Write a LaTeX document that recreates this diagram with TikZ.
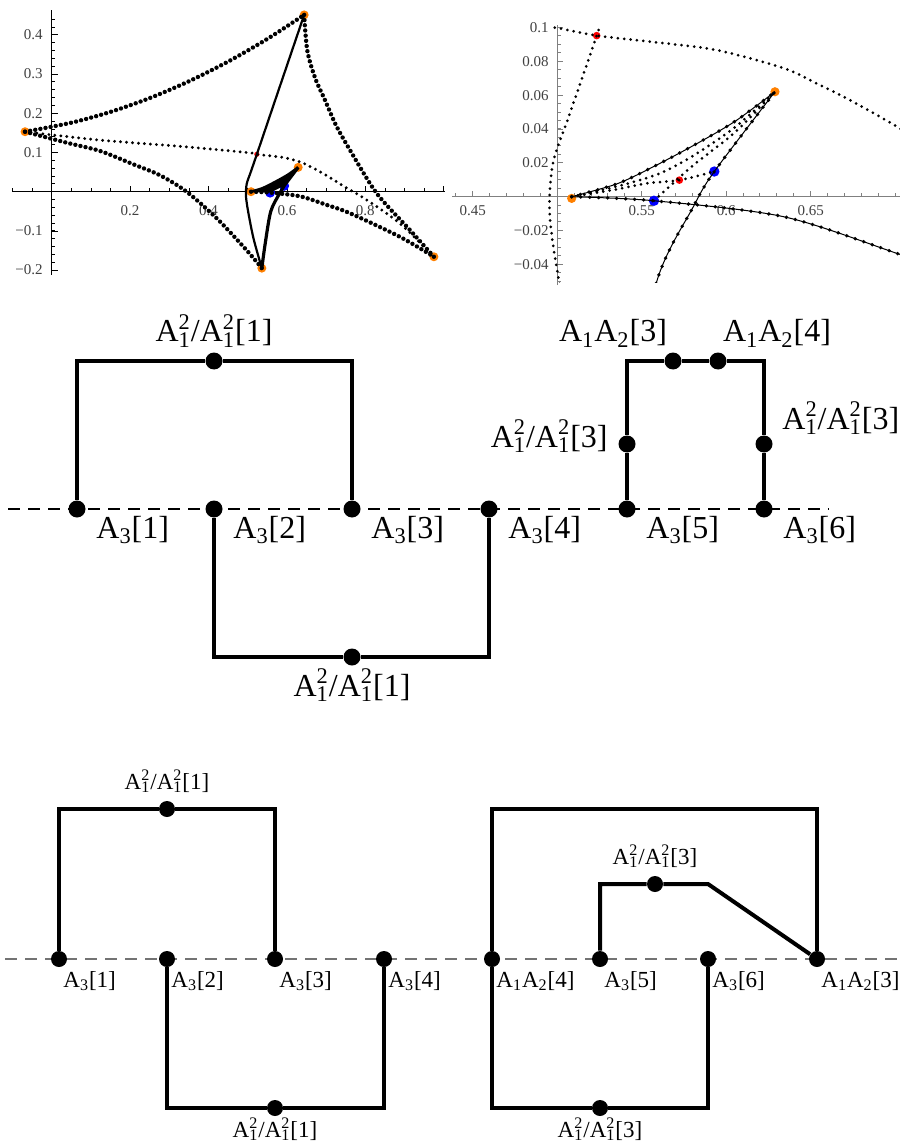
\documentclass[tikz,border=0pt]{standalone}
\usepackage{fontspec}
\setmainfont{Liberation Serif}
\usetikzlibrary{positioning, calc}

\definecolor{mmaorange}{rgb}{1,0.5,0}
\definecolor{axisgray}{gray}{0.5}

\newcommand{\Asq}{A\rlap{\textsuperscript{2}}\textsubscript{1}}
\newcommand{\Aratio}[1]{\Asq/\Asq[#1]}
\newcommand{\Athr}[1]{A\textsubscript{3}[#1]}
\newcommand{\Aot}[1]{A\textsubscript{1}A\textsubscript{2}[#1]}

\begin{document}
\begin{tikzpicture}[
  x=0.5pt, y=-0.5pt,
  bigdots/.style={line width=2.2pt, line cap=round, dash pattern=on 0pt off 2.6pt},
  thindots/.style={line width=1.6pt, line cap=round, dash pattern=on 0pt off 3pt},
  finedots/.style={line width=1.5pt, line cap=round, dash pattern=on 0pt off 3.2pt},
  markline/.style={line width=0.5pt, postaction={draw, line width=1.9pt, line cap=round, dash pattern=on 0pt off 4.5pt}},
  ticklabel/.style={font=\fontsize{7.5}{9}\selectfont, text=black!75, inner sep=0pt},
  ptmark/.style={circle, fill=#1, inner sep=0pt, minimum size=4.5pt},
  vertex/.style={circle, fill=black, inner sep=0pt, minimum size=#1},
  vertex/.default=8.5pt,
  bond/.style={line width=2pt},
  axisdash/.style={line width=0.6pt, dash pattern=on 6pt off 4pt},
  biglabel/.style={font=\fontsize{16}{18}\selectfont, inner sep=0pt},
  smalllabel/.style={font=\fontsize{11.5}{13}\selectfont, inner sep=0pt}
]
\useasboundingbox (0,0) rectangle (901,1144);

% ===== LEFT PLOT: whole orbit =====
\begin{scope}[shift={(51.7,191.7)}, x=196pt, y=196pt]
  \draw[line width=0.5pt] (-0.099,0) -- (1.003,0);
  \draw[line width=0.5pt] (0,-0.2125) -- (0,0.4635);
  \foreach \t in {-0.1,-0.05,0.05,0.1,...,1.0}
    \draw[line width=0.4pt] (\t,0) -- ++(0,1.6pt);
  \foreach \t in {0.2,0.4,...,1.0}
    \draw[line width=0.4pt] (\t,0) -- ++(0,3pt);
  \foreach \t in {-0.2,-0.18,...,0.46}
    \draw[line width=0.4pt] (0,\t) -- ++(1.6pt,0);
  \foreach \t in {-0.2,-0.1,0.1,0.2,0.3,0.4}
    \draw[line width=0.4pt] (0,\t) -- ++(3pt,0);
  \foreach \t [count=\k] in {0.2,0.4,0.6,0.8}
    \node[ticklabel] (lx\k) at (\t,-0.047) {\t};
  \foreach \t/\s [count=\k] in {0.4/0.4,0.3/0.3,0.2/0.2,0.1/0.1,-0.1/−0.1,-0.2/−0.2}
    \node[ticklabel, anchor=east] (ly\k) at (-0.022,\t) {\s};
  % special points
  \node[ptmark=mmaorange] (lP1) at (-0.068,0.153) {};
  \node[ptmark=mmaorange] (lP2) at (0.644,0.451) {};
  \node[ptmark=mmaorange] (lP3) at (0.975,-0.166) {};
  \node[ptmark=mmaorange] (lP4) at (0.536,-0.195) {};
  \node[ptmark=mmaorange] (lP5) at (0.5085,0) {};
  \node[ptmark=mmaorange] (lP6) at (0.6288,0.0621) {};
  \node[ptmark=blue, minimum size=5pt] (lB1) at (0.5572,-0.0024) {};
  \node[ptmark=blue, minimum size=5pt] (lB2) at (0.5929,0.0149) {};
  \node[ptmark=red, minimum size=2.6pt] (lR1) at (0.5233,0.0953) {};
  % branches
  \draw[bigdots] plot[smooth] coordinates {(-0.068,0.153) (0.05,0.176) (0.15,0.2036) (0.25,0.2388) (0.35,0.2816) (0.45,0.3319) (0.55,0.3897) (0.644,0.451)};
  \draw[bigdots] plot[smooth] coordinates {(0.644,0.451) (0.652,0.36) (0.672,0.29) (0.697,0.234) (0.725,0.17) (0.761,0.106) (0.829,-0.004) (0.914,-0.098) (0.975,-0.166)};
  \draw[bigdots] plot[smooth] coordinates {(-0.068,0.153) (0.038,0.125) (0.123,0.104) (0.208,0.07) (0.276,0.042) (0.344,0.0) (0.421,-0.068) (0.497,-0.149) (0.536,-0.195)};
  \draw[line width=1.1pt] plot[smooth] coordinates {(0.536,-0.195) (0.515,-0.12) (0.501,-0.05) (0.4955,-0.01) (0.4975,0.02) (0.5071,0.0483) (0.5233,0.0953) (0.574,0.245) (0.644,0.451)};
  \draw[line width=1.6pt] plot[smooth] coordinates {(0.536,-0.195) (0.545,-0.13) (0.5588,-0.0503) (0.5805,-0.0059) (0.5929,0.0149) (0.6288,0.0621)};
  \draw[thindots] plot[smooth] coordinates {(-0.068,0.153) (0.123,0.1316) (0.336,0.115) (0.5016,0.0996) (0.5233,0.0953) (0.555,0.0917) (0.594,0.0868) (0.634,0.076) (0.6535,0.067) (0.673,0.0572) (0.70,0.042) (0.75,0.011) (0.8036,-0.021) (0.888,-0.081) (0.975,-0.166)};
  \draw[bigdots] plot[smooth] coordinates {(0.5085,0) (0.5572,-0.0024) (0.6337,-0.0118) (0.7008,-0.0335) (0.761,-0.055) (0.888,-0.115) (0.975,-0.166)};
  \fill plot[smooth] coordinates {(0.5085,0) (0.535,0.0075) (0.555,0.0168) (0.58,0.030) (0.605,0.0445) (0.6288,0.0621)} -- (0.5929,0.0149) -- (0.5572,-0.0024) -- cycle;
  \draw[line width=1.4pt] plot[smooth] coordinates {(0.5085,0) (0.535,0.0075) (0.555,0.0168) (0.58,0.030) (0.605,0.0445) (0.6288,0.0621)};
\end{scope}

% ===== RIGHT PLOT: zoom near the small cusp =====
\begin{scope}[shift={(-287.7,196.7)}, x=845pt, y=845pt]
  \draw[axisgray, line width=0.7pt] (0.4377,0) -- (0.7027,0);
  \draw[axisgray, line width=0.7pt] (0.5,-0.0523) -- (0.5,0.1016);
  \foreach \t in {0.44,0.45,...,0.70}
    \draw[axisgray, line width=0.5pt] (\t,0) -- ++(0,1.6pt);
  \foreach \t in {0.45,0.5,...,0.70}
    \draw[axisgray, line width=0.5pt] (\t,0) -- ++(0,3pt);
  \foreach \t in {-0.05,-0.045,...,0.1}
    \draw[axisgray, line width=0.5pt] (0.5,\t) -- ++(1.6pt,0);
  \foreach \t in {-0.04,-0.02,...,0.1}
    \draw[axisgray, line width=0.5pt] (0.5,\t) -- ++(3pt,0);
  \foreach \t [count=\k] in {0.45,0.55,0.6,0.65}
    \node[ticklabel] (rx\k) at (\t,-0.0085) {\t};
  \foreach \t/\s [count=\k] in {0.1/0.1,0.08/0.08,0.06/0.06,0.04/0.04,0.02/0.02,-0.02/−0.02,-0.04/−0.04}
    \node[ticklabel, anchor=east] (ry\k) at (0.4951,\t) {\s};
  % special points
  \node[ptmark=mmaorange, minimum size=4.6pt] (rP5) at (0.5085,-0.001) {};
  \node[ptmark=mmaorange, minimum size=4.6pt] (rP6) at (0.6288,0.0621) {};
  \node[ptmark=blue, minimum size=5.2pt] (rB1) at (0.5572,-0.0024) {};
  \node[ptmark=blue, minimum size=5.2pt] (rB2) at (0.5929,0.0149) {};
  \node[ptmark=red, minimum size=3.8pt] (rR1) at (0.5233,0.0953) {};
  \node[ptmark=red, minimum size=3.8pt] (rR2) at (0.5722,0.0098) {};
  \begin{scope}
    \clip (0.4377,-0.0505) rectangle (0.7027,0.1005);
    \draw[finedots] plot[smooth] coordinates {(0.4985,0.1) (0.5016,0.0996) (0.5233,0.0953) (0.555,0.0917) (0.594,0.0868) (0.634,0.076) (0.6535,0.067) (0.673,0.0572) (0.70,0.042) (0.75,0.011)};
    \draw[finedots] plot[smooth] coordinates {(0.536,-0.195) (0.515,-0.12) (0.501,-0.05) (0.4955,-0.01) (0.4975,0.02) (0.5071,0.0483) (0.5233,0.0953) (0.574,0.245)};
    \draw[markline] plot[smooth] coordinates {(0.5085,0) (0.535,0.0075) (0.555,0.0168) (0.58,0.030) (0.605,0.0445) (0.6288,0.0621)};
    \draw[markline] plot[smooth] coordinates {(0.5085,0) (0.5572,-0.0024) (0.6337,-0.0118) (0.7008,-0.0335) (0.761,-0.055)};
    \draw[markline] plot[smooth] coordinates {(0.545,-0.13) (0.5588,-0.0503) (0.5805,-0.0059) (0.5929,0.0149) (0.6288,0.0621)};
    \draw[finedots] plot[smooth] coordinates {(0.5085,0) (0.535,0.006) (0.56,0.0135) (0.58,0.024) (0.605,0.041) (0.6288,0.0621)};
    \draw[finedots] plot[smooth] coordinates {(0.5085,0) (0.5331,0.004) (0.5529,0.0079) (0.5722,0.0098) (0.5929,0.0149)};
    \draw[finedots] plot[smooth] coordinates {(0.5572,-0.0024) (0.58,0.0182) (0.605,0.038) (0.6288,0.0621)};
  \end{scope}
\end{scope}

% ===== MIDDLE DIAGRAM =====
\coordinate (mL) at (8,509);
\coordinate (mR) at (829,509);
\draw[axisdash] (mL) -- (mR);
\foreach \i/\x in {1/77,2/214,3/352,4/489,5/627,6/764}{
  \node[vertex] (m\i) at (\x,509) {};
  \node[biglabel, anchor=north west] (lm\i) at (\x+19,516) {\Athr{\i}};
}
\node[vertex] (mt) at (214,361) {};
\node[vertex] (mb) at (352,657) {};
\node[vertex] (ml) at (627,444) {};
\node[vertex] (mr) at (764,444) {};
\node[vertex] (mp3) at (673,361) {};
\node[vertex] (mp4) at (718,361) {};
\draw[bond] (m1) |- (mt) -| (m3);
\draw[bond] (m2) |- (mb) -| (m4);
\draw[bond] (m5) -- (ml) |- (mp3) -- (mp4) -| (mr) -- (m6);
\node[biglabel, anchor=base] (lmt) at (214,342) {\Aratio{1}};
\node[biglabel, anchor=base] (lmb) at (352,696) {\Aratio{1}};
\node[biglabel, anchor=base] (lp3) at (613,342) {\Aot{3}};
\node[biglabel, anchor=base] (lp4) at (777,342) {\Aot{4}};
\node[biglabel, anchor=base east] (lml) at (608,447) {\Aratio{3}};
\node[biglabel, anchor=base west] (lmr) at (782,429) {\Aratio{3}};

% ===== BOTTOM DIAGRAM =====
\coordinate (bL) at (5,959);
\coordinate (bR) at (901,959);
\draw[axisdash, black!55] (bL) -- (bR);
\foreach \i/\x/\t in {1/59/\Athr{1},2/167/\Athr{2},3/275/\Athr{3},4/384/\Athr{4},
                      5/492/\Aot{4},6/600/\Athr{5},7/708/\Athr{6},8/817/\Aot{3}}{
  \node[vertex=8pt] (b\i) at (\x,959) {};
  \node[smalllabel, anchor=north west] (lb\i) at (\x+4,971) {\t};
}
\node[vertex=8pt] (bt) at (167,809) {};
\node[vertex=8pt] (bb) at (275,1108) {};
\node[vertex=8pt] (bi) at (655,884) {};
\node[vertex=8pt] (bbr) at (600,1108) {};
\coordinate (bc1) at (492,809);
\coordinate (bc2) at (817,809);
\coordinate (bc3) at (708,884);
\draw[bond] (b1) |- (bt) -| (b3);
\draw[bond] (b2) |- (bb) -| (b4);
\draw[bond] (b5) -- (bc1) -- (bc2) -- (b8);
\draw[bond] (b6) |- (bi) -- (bc3) -- (b8);
\draw[bond] (b5) |- (bbr) -| (b7);
\node[smalllabel, anchor=base] (lbt) at (167,789) {\Aratio{1}};
\node[smalllabel, anchor=base] (lbb) at (275,1137) {\Aratio{1}};
\node[smalllabel, anchor=base] (lbi) at (655,864) {\Aratio{3}};
\node[smalllabel, anchor=base] (lbbr) at (600,1137) {\Aratio{3}};
\end{tikzpicture}
\end{document}
